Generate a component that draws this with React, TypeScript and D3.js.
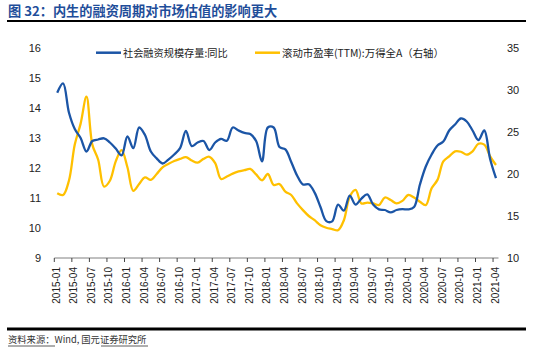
import React from "react";
import * as d3 from "d3";

const months: string[] = [];
for (let y = 2015; y <= 2021; y++) {
  for (let m = 1; m <= 12; m++) {
    if (y === 2021 && m > 4) break;
    months.push(`${y}-${String(m).padStart(2, "0")}`);
  }
}

const tsfYoY = [
  14.51, 14.82, 13.85, 13.3, 13.0, 12.55, 12.9, 12.95, 12.99, 12.85, 12.65, 12.42,
  13.05, 12.66, 13.35, 13.1, 12.55, 12.32, 12.15, 12.28, 12.45, 12.66, 13.24, 12.73,
  12.85, 12.9, 12.6, 12.85, 12.97, 12.91, 13.35, 13.25, 13.17, 13.13, 12.9, 12.22,
  13.35, 13.35, 12.7, 12.62, 12.2, 11.75, 11.45, 11.46, 11.18, 10.7, 10.23, 10.22,
  10.78, 10.58, 11.08, 10.78, 10.98, 11.12, 10.78, 10.62, 10.6, 10.52, 10.6, 10.63,
  10.62, 10.7, 11.45, 12.05, 12.45, 12.75, 12.88, 13.25, 13.45, 13.65, 13.55, 13.25,
  12.93, 13.25, 12.3, 11.66,
];

const peTTM = [
  17.7, 17.5, 19.2, 23.5, 26.0, 29.2, 23.5, 21.7, 18.5, 19.2, 21.5, 22.85,
  20.8, 18.0, 18.8, 19.6, 19.3, 20.0, 20.8, 21.2, 21.55, 21.8, 22.0, 21.6,
  21.35, 21.8, 22.05, 21.3, 19.4, 19.7, 20.05, 20.3, 20.45, 20.6, 19.95, 19.25,
  20.0, 18.7, 18.8, 17.9, 17.5, 16.5, 15.7, 15.0, 14.5, 13.9, 13.6, 13.45,
  13.3, 14.5, 17.3, 18.1, 16.5, 16.6, 16.5, 16.3, 17.2, 16.9, 16.5, 16.8,
  17.5, 17.2, 16.7, 16.3, 18.3, 19.3, 21.5, 22.1, 22.7, 22.65, 22.3, 22.7,
  23.6, 23.5, 22.1, 21.07,
];

const leftTicks = [9, 10, 11, 12, 13, 14, 15, 16];
const rightTicks = [10, 15, 20, 25, 30, 35];

const title = "图 32：内生的融资周期对市场估值的影响更大";
const legendNames = ["社会融资规模存量:同比", "滚动市盈率(TTM):万得全A（右轴）"];
const sourceA = "资料来源：";
const sourceB = "Wind, 国元";
const sourceC = "证券研究所";

const BLUE = "#1B55A6";
const GOLD = "#FFC000";

export default function App() {
  const x = d3.scaleBand<string>().domain(months).range([54.3, 498.9]);
  const yL = d3.scaleLinear().domain([9, 16]).range([258, 48]);
  const yR = d3.scaleLinear().domain([10, 35]).range([258, 48]);
  const cx = (m: string) => (x(m) as number) + x.bandwidth() / 2;

  const lineL = d3
    .line<number>()
    .x((_, i) => cx(months[i]))
    .y((d) => yL(d))
    .curve(d3.curveCatmullRom.alpha(0.5));
  const lineR = d3
    .line<number>()
    .x((_, i) => cx(months[i]))
    .y((d) => yR(d))
    .curve(d3.curveCatmullRom.alpha(0.5));

  const tickMonths = months.filter((_, i) => i % 3 === 0);
  const font = "Liberation Sans, Arial, sans-serif";
  const cjk = "'Noto Sans CJK SC', sans-serif";

  return (
    <svg
      width={540}
      height={350}
      style={{ position: "absolute", left: 0, top: 0, background: "#fff" }}
    >
      <text x={8} y={16} fontFamily={cjk} fontWeight={700} fontSize={13.2} fill="#1F4E9A">
        {title}
      </text>
      <line x1={7} x2={526} y1={21} y2={21} stroke="#000" strokeWidth={2} />

      {/* legend */}
      <line x1={96} x2={121} y1={52.7} y2={52.7} stroke={BLUE} strokeWidth={2.5} />
      <text x={123} y={56.5} fontFamily={cjk} fontSize={10.2} fill="#222">
        {legendNames[0]}
      </text>
      <line x1={255} x2={280} y1={52.7} y2={52.7} stroke={GOLD} strokeWidth={2.5} />
      <text x={282} y={56.5} fontFamily={cjk} fontSize={10.4} fill="#222">
        {legendNames[1]}
      </text>

      {/* left axis labels */}
      {leftTicks.map((t) => (
        <text key={"l" + t} x={41} y={yL(t)} dy="0.35em" textAnchor="end" fontFamily={font} fontSize={11} fill="#222">
          {t}
        </text>
      ))}
      {rightTicks.map((t) => (
        <text key={"r" + t} x={507} y={yR(t)} dy="0.35em" textAnchor="start" fontFamily={font} fontSize={11} fill="#222">
          {t}
        </text>
      ))}

      {/* x axis */}
      <line x1={54.3} x2={498.5} y1={258} y2={258} stroke="#808080" strokeWidth={1} />
      {tickMonths.map((m) => {
        const tx = x(m) as number;
        return (
          <g key={m}>
            <line x1={tx} x2={tx} y1={258} y2={262} stroke="#444" strokeWidth={1} />
            <text
              transform={`translate(${tx + 5.5},267) rotate(-90)`}
              textAnchor="end"
              fontFamily={font}
              fontSize={10}
              fill="#222"
            >
              {m}
            </text>
          </g>
        );
      })}

      <path d={lineR(peTTM) || ""} fill="none" stroke={GOLD} strokeWidth={2.3} />
      <path d={lineL(tsfYoY) || ""} fill="none" stroke={BLUE} strokeWidth={2.3} />

      <line x1={7} x2={526} y1={329} y2={329} stroke="#000" strokeWidth={3} />
      <text x={8} y={343} fontFamily={cjk} fontSize={9.3} fill="#333">
        <tspan>{sourceA}</tspan>
        <tspan>{sourceB}</tspan>
        <tspan>{sourceC}</tspan>
      </text>
      <line x1={8} x2={55} y1={346} y2={346} stroke="#333" strokeWidth={0.8} />
      <line x1={101} x2={148} y1={346} y2={346} stroke="#333" strokeWidth={0.8} />
    </svg>
  );
}
